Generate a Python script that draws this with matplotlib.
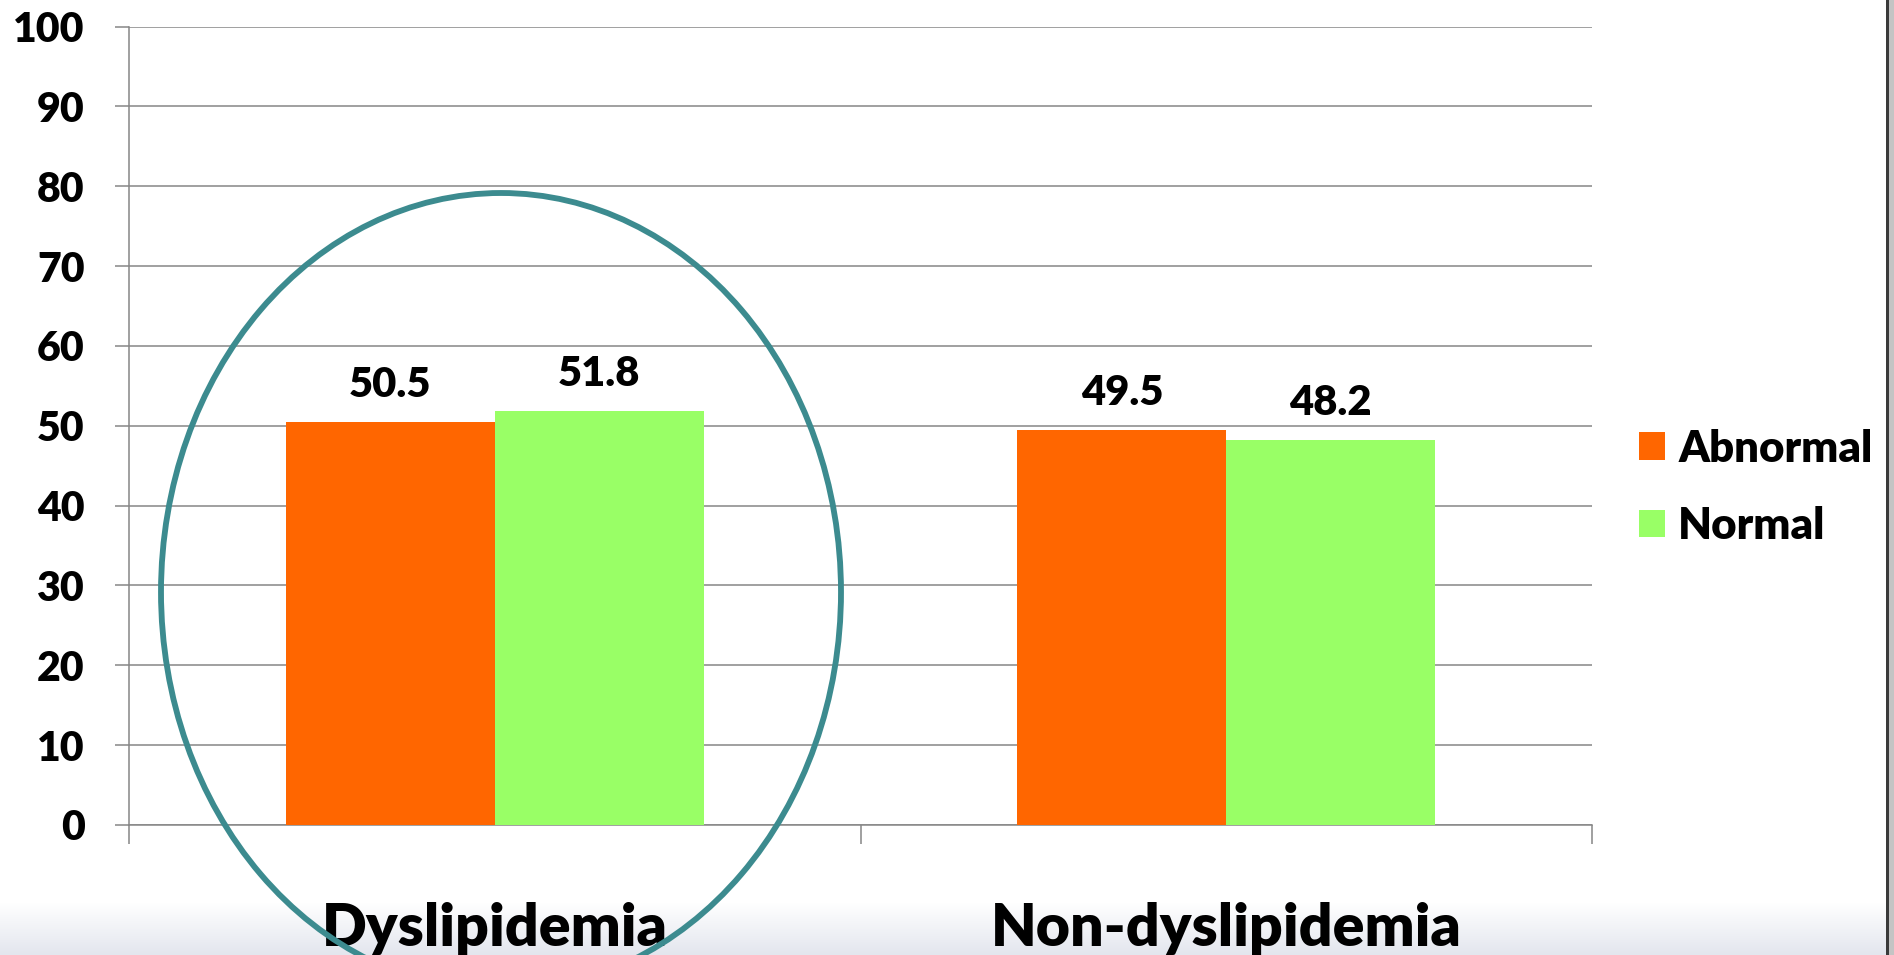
import numpy as np
import matplotlib

matplotlib.use("Agg")
import matplotlib.pyplot as plt  # noqa: E402
from matplotlib.colors import LinearSegmentedColormap  # noqa: E402
from matplotlib.patches import Ellipse, Rectangle  # noqa: E402

# 数据
categories = ["Dyslipidemia", "Non-dyslipidemia"]
series_names = ["Abnormal", "Normal"]
abnormal = [50.5, 49.5]
normal = [51.8, 48.2]
y_ticks = [0, 10, 20, 30, 40, 50, 60, 70, 80, 90, 100]

COLORS = {"Abnormal": "#FF6600", "Normal": "#99FF66"}
GRID = "#868686"
FONT = "Lato"
WEIGHT = "heavy"

plt.rcParams["font.family"] = [FONT, "DejaVu Sans"]
plt.rcParams["font.weight"] = WEIGHT

W, H = 1894, 955
fig = plt.figure(figsize=(W / 100, H / 100), dpi=100)

# 底部渐变 (幻灯片背景)
bg = fig.add_axes([0, 0, 1, 52 / H], zorder=-5)
grad = np.linspace(0, 1, 64).reshape(-1, 1)
cmap = LinearSegmentedColormap.from_list("bg", ["#E3E6EE", "#FFFFFF"])
bg.imshow(grad, aspect="auto", cmap=cmap, origin="lower", extent=[0, 1, 0, 1])
bg.axis("off")

ax = fig.add_axes([129 / W, 1 - 825 / H, (1592 - 129) / W, (825 - 26.6) / H])
ax.patch.set_alpha(0)

x = np.arange(len(categories))
w = 0.2855
bars_a = ax.bar(x - w / 2, abnormal, w, color=COLORS["Abnormal"], label="Abnormal", zorder=3)
bars_n = ax.bar(x + w / 2, normal, w, color=COLORS["Normal"], label="Normal", zorder=3)

for bars, vals in ((bars_a, abnormal), (bars_n, normal)):
    for b, v in zip(bars, vals):
        ax.annotate(f"{v:.1f}", (b.get_x() + b.get_width() / 2, v),
                    xytext=(0, 18), textcoords="offset points",
                    ha="center", va="baseline", fontsize=30, fontweight=WEIGHT)

ax.set_xlim(-0.5, len(categories) - 0.5)
ax.set_ylim(0, 100)
ax.set_yticks(y_ticks)
ax.set_yticklabels([str(t) for t in y_ticks], fontsize=29.5, fontweight=WEIGHT)
ax.tick_params(axis="y", length=10, width=1.1, color=GRID, pad=22)
ax.set_xticks(np.arange(len(categories) + 1) - 0.5)
ax.set_xticklabels([])
ax.tick_params(axis="x", length=14, width=1.1, color=GRID)
ax.grid(axis="y", color=GRID, linewidth=1.1, zorder=0)
ax.set_axisbelow(True)
for s in ("top", "right"):
    ax.spines[s].set_visible(False)
for s in ("left", "bottom"):
    ax.spines[s].set_color(GRID)
    ax.spines[s].set_linewidth(1.1)

for i, c in enumerate(categories):
    ax.text(i, -(946 - 825) / (825 - 26.6), c, transform=ax.get_xaxis_transform(),
            ha="center", va="baseline", fontsize=42.5, fontweight=WEIGHT, clip_on=False)

fig.legend(handles=[bars_a, bars_n], labels=series_names, loc="upper left",
           bbox_to_anchor=(1630 / W, 1 - 420 / H), frameon=False,
           handlelength=0.6, handleheight=0.6, handletextpad=0.3,
           labelspacing=0.85, borderaxespad=0, borderpad=0.2,
           prop={"weight": WEIGHT, "size": 31.5})

# 强调圈
ell = Ellipse((501 / W, 1 - 592 / H), 680 / W, 798 / H, transform=fig.transFigure,
              fill=False, edgecolor="#3C8B8F", linewidth=4.2, zorder=10)
fig.patches.append(ell)

# 右侧窗口边框
fig.patches.append(Rectangle((1886 / W, 0), 3 / W, 1, transform=fig.transFigure,
                             facecolor="#3A3A3A", edgecolor="none"))
fig.patches.append(Rectangle((1889 / W, 0), 5 / W, 1, transform=fig.transFigure,
                             facecolor="#C4C4C4", edgecolor="none"))

fig.savefig("out.png", dpi=100)
